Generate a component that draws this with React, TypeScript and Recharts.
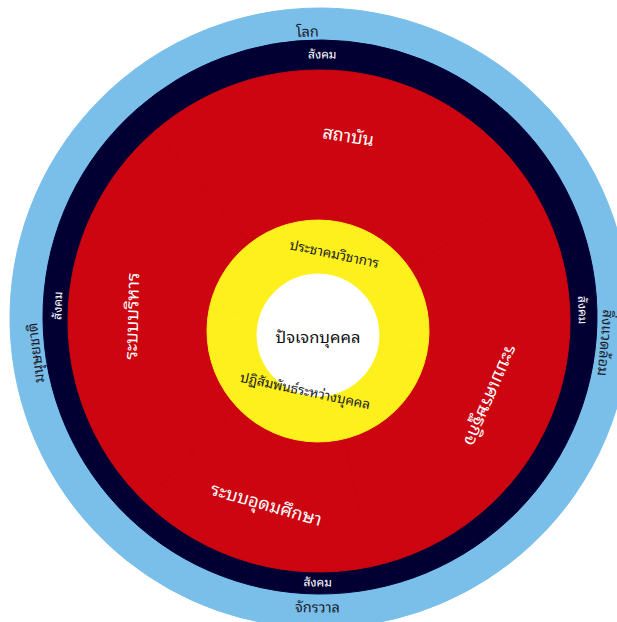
import React from "react";
import { PieChart, Pie, Cell } from "recharts";

// Ring contents (outermost to innermost)
const outerNames = ["โลก", "สิ่งแวดล้อม", "จักรวาล", "มนุษยชาติ"];
const outerValues = [100, 95, 76, 89];

const societyNames = ["สังคม", "สังคม", "สังคม", "สังคม"];
const societyValues = [84, 92, 92, 92];

const systemNames = ["สถาบัน", "ระบบเศรษฐกิจ", "ระบบอุดมศึกษา", "ระบบบริหาร"];
const systemValues = [100, 109, 56, 95];

const groupNames = ["ประชาคมวิชาการ", "ปฏิสัมพันธ์ระหว่างบุคคล"];
const groupValues = [1, 1];

const coreNames = ["ปัจเจกบุคคล"];
const coreValues = [1];

const toData = (names: string[], values: number[]) =>
  names.map((name, i) => ({ name, value: values[i] }));

type Ring = {
  key: string;
  data: { name: string; value: number }[];
  cx: number;
  cy: number;
  r: number;
  start: number;
  labelR: number;
  flippedR?: number;
  fill: string;
  text: string;
  fontSize: number;
};

const FONT = "'Noto Sans Thai Looped', Tahoma, 'Noto Sans Thai', 'Noto Sans', sans-serif";

const rings: Ring[] = [
  { key: "outer", data: toData(outerNames, outerValues), cx: 320, cy: 318, r: 310, start: 142.5, labelR: 288, fill: "#79BFEA", text: "#1c1c2c", fontSize: 14.5 },
  { key: "society", data: toData(societyNames, societyValues), cx: 320, cy: 317, r: 277, start: 131.5, labelR: 264, fill: "#020033", text: "#ffffff", fontSize: 12 },
  { key: "system", data: toData(systemNames, systemValues), cx: 319, cy: 321, r: 251, start: 131, labelR: 189, fill: "#CC0511", text: "#ffffff", fontSize: 18 },
  { key: "group", data: toData(groupNames, groupValues), cx: 318, cy: 331, r: 111, start: 168, labelR: 80, flippedR: 60, fill: "#FDF01C", text: "#222222", fontSize: 13.5 },
  { key: "core", data: toData(coreNames, coreValues), cx: 318, cy: 335, r: 61, start: 90, labelR: 0, fill: "#FFFFFF", text: "#111111", fontSize: 16.5 },
];

const makeLabel = (ring: Ring) => (props: any) => {
  const { cx, cy, midAngle, name } = props;
  const theta = -midAngle;
  let rot = theta + 90;
  rot = (((rot % 360) + 540) % 360) - 180;
  const flipped = Math.abs(rot) > 135;
  if (flipped) rot = rot > 0 ? rot - 180 : rot + 180;
  const r = flipped && ring.flippedR != null ? ring.flippedR : ring.labelR;
  const rad = (theta * Math.PI) / 180;
  const x = Number(cx) + r * Math.cos(rad);
  const y = Number(cy) + r * Math.sin(rad);
  return (
    <text
      x={x}
      y={y}
      transform={`rotate(${rot} ${x} ${y})`}
      textAnchor="middle"
      dominantBaseline="central"
      fill={ring.text}
      fontSize={ring.fontSize}
      fontFamily={FONT}
    >
      {name}
    </text>
  );
};

export default function App() {
  return (
    <div style={{ width: 617, height: 622, background: "#fff" }}>
      <style>{`body{margin:0;background:#fff}`}</style>
      <PieChart width={617} height={622} margin={{ top: 0, right: 0, bottom: 0, left: 0 }}>
        {rings.map((ring) => (
          <Pie
            key={ring.key}
            data={ring.data}
            dataKey="value"
            nameKey="name"
            cx={ring.cx}
            cy={ring.cy}
            innerRadius={0}
            outerRadius={ring.r}
            startAngle={ring.start}
            endAngle={ring.start - 360}
            isAnimationActive={false}
            labelLine={false}
            label={makeLabel(ring)}
          >
            {ring.data.map((d, i) => (
              <Cell key={i} fill={ring.fill} stroke={ring.fill} strokeWidth={1} />
            ))}
          </Pie>
        ))}
      </PieChart>
    </div>
  );
}
